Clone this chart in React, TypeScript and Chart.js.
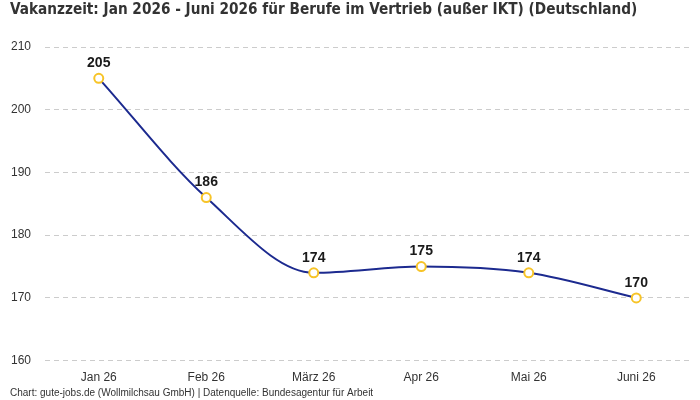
import React, { useEffect, useRef } from "react";
import { Chart, registerables } from "chart.js";

Chart.register(...registerables);

const categories = ["Jan 26", "Feb 26", "März 26", "Apr 26", "Mai 26", "Juni 26"];
const values = [205, 186, 174, 175, 174, 170];
const titleText = "Vakanzzeit: Jan 2026 - Juni 2026 für Berufe im Vertrieb (außer IKT) (Deutschland)";
const footerText = "Chart: gute-jobs.de (Wollmilchsau GmbH) | Datenquelle: Bundesagentur für Arbeit";

const labelPlugin = {
  id: "valueLabels",
  afterDatasetsDraw(chart: any) {
    const { ctx } = chart;
    const meta = chart.getDatasetMeta(0);
    ctx.save();
    ctx.font = "bold 14px 'Liberation Sans', Arial, sans-serif";
    ctx.fillStyle = "#1a1a1a";
    ctx.textAlign = "center";
    ctx.textBaseline = "bottom";
    meta.data.forEach((pt: any, i: number) => {
      ctx.fillText(String(values[i]), pt.x, pt.y - 8);
    });
    ctx.restore();
  },
};

const textPlugin = {
  id: "titleFooter",
  afterDraw(chart: any) {
    const { ctx } = chart;
    ctx.save();
    ctx.textAlign = "left";
    ctx.textBaseline = "middle";
    ctx.fillStyle = "#333333";
    ctx.font = "bold 15.2px 'DejaVu Sans Condensed', 'DejaVu Sans', sans-serif";
    ctx.fillText(titleText, 10, 10);
    ctx.font = "10px 'Liberation Sans', Arial, sans-serif";
    ctx.fillText(footerText, 10, 393);
    ctx.restore();
  },
};

export default function App() {
  const ref = useRef<HTMLCanvasElement>(null);
  useEffect(() => {
    document.body.style.margin = "0";
    const chart = new Chart(ref.current!, {
      type: "line",
      data: {
        labels: categories,
        datasets: [
          {
            data: values,
            borderColor: "#1c2a8f",
            borderWidth: 2,
            cubicInterpolationMode: "monotone",
            pointRadius: 4.5,
            pointBorderWidth: 2,
            pointBackgroundColor: "#ffffff",
            pointBorderColor: "#f7c428",
            fill: false,
          },
        ],
      },
      options: {
        animation: false,
        responsive: false,
        layout: { padding: { left: 10, right: 10, top: 47, bottom: 13 } },
        plugins: {
          legend: { display: false },
          tooltip: { enabled: false },
        },
        scales: {
          x: {
            offset: true,
            grid: { display: false },
            border: { display: false },
            ticks: { color: "#333333", font: { family: "'Liberation Sans', Arial, sans-serif", size: 12 }, padding: 2 },
          },
          y: {
            min: 160,
            max: 210,
            afterFit: (scale: any) => {
              scale.width = 35;
            },
            grid: { color: "#cccccc", drawTicks: false },
            border: { display: false, dash: [5, 4] },
            ticks: {
              stepSize: 10,
              color: "#333333",
              padding: 14,
              font: { family: "'Liberation Sans', Arial, sans-serif", size: 12 },
            },
          },
        },
      },
      plugins: [labelPlugin, textPlugin],
    });
    return () => chart.destroy();
  }, []);
  return (
    <div style={{ width: 700, height: 400 }}>
      <canvas ref={ref} width={700} height={400} />
    </div>
  );
}
